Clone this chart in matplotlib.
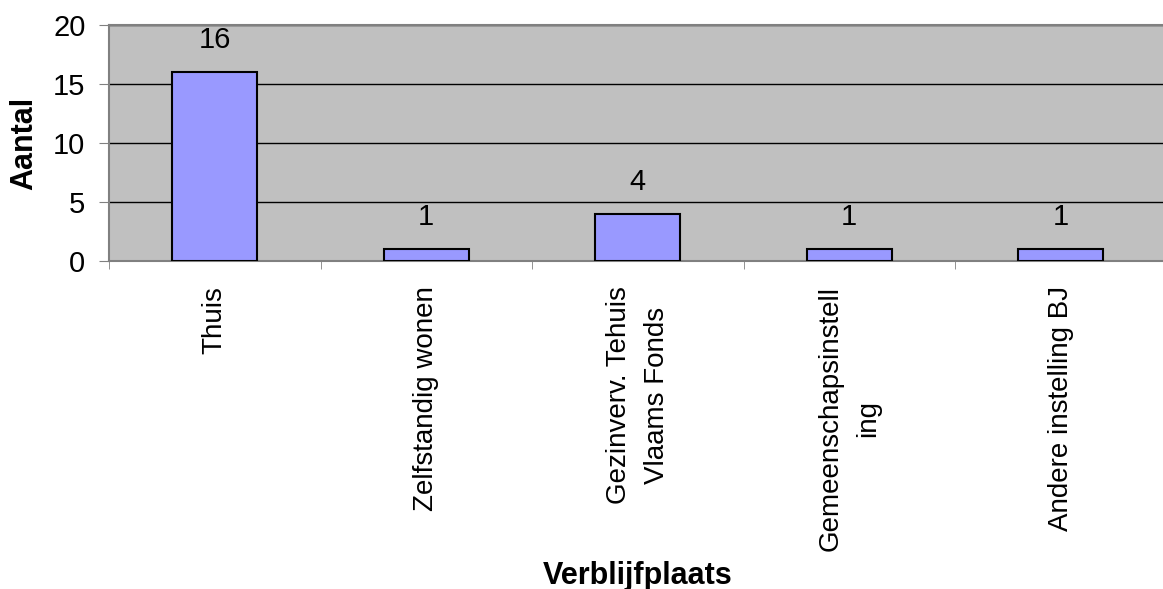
import matplotlib.pyplot as plt
import numpy as np

plt.rcParams['font.family'] = ['Liberation Sans', 'DejaVu Sans']

# data
categories = ['Thuis', 'Zelfstandig wonen', 'Gezinverv. Tehuis\nVlaams Fonds',
              'Gemeenschapsinstell\ning', 'Andere instelling BJ']
aantal = [16, 1, 4, 1, 1]

fig = plt.figure(figsize=(11.63, 5.89), dpi=100)
ax = fig.add_axes([109 / 1163, 328 / 589, 1057.5 / 1163, 236 / 589])
ax.set_facecolor('#C0C0C0')

x = np.arange(len(categories))
ax.bar(x, aantal, width=0.4, color='#9999FF', edgecolor='black', linewidth=1.5, zorder=3)
for xi, v in zip(x, aantal):
    ax.text(xi, v + 2.7, str(v), ha='center', va='center', fontsize=21, zorder=4)

ax.set_xlim(-0.5, len(categories) - 0.5)
ax.set_ylim(0, 20)
ax.set_yticks([0, 5, 10, 15, 20])
ax.yaxis.grid(True, color='black', linewidth=1)
ax.set_axisbelow(True)

ax.set_xticks(x)
ax.set_xticklabels(categories, rotation=90, va='top', ha='center',
                   multialignment='center', linespacing=1.6)
ax.set_xticks(np.arange(len(categories) + 1) - 0.5, minor=True)
ax.tick_params(axis='x', which='major', length=0, pad=18, labelsize=20)
ax.tick_params(axis='x', which='minor', length=6, color='#808080')
ax.tick_params(axis='y', length=7, color='#808080', labelsize=21, pad=10)

for side in ['left', 'bottom', 'top']:
    ax.spines[side].set_color('#808080')
    ax.spines[side].set_linewidth(1.5)
ax.spines['right'].set_visible(False)

ax.set_ylabel('Aantal', fontsize=22, fontweight='bold', labelpad=10)
fig.text((109 + 1057.5 / 2) / 1163, 1 - 576 / 589, 'Verblijfplaats', ha='center', va='center',
         fontsize=22, fontweight='bold')

fig.savefig('out.png', dpi=100)
